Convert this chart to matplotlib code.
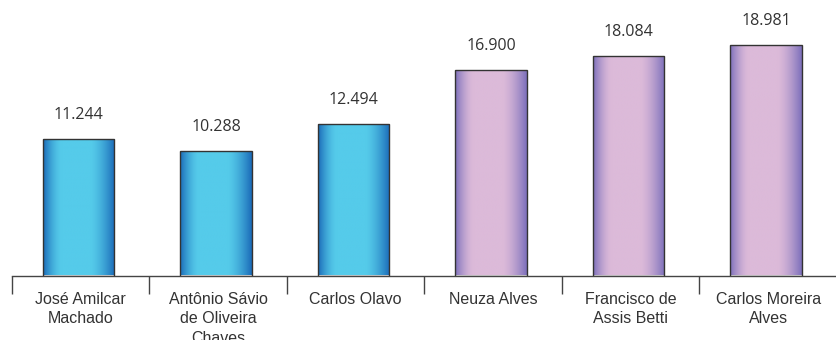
import numpy as np
import matplotlib
matplotlib.use("Agg")
import matplotlib.pyplot as plt
from matplotlib.colors import to_rgb

# Data
names = [
    "José Amilcar\nMachado",
    "Antônio Sávio\nde Oliveira\nChaves",
    "Carlos Olavo",
    "Neuza Alves",
    "Francisco de\nAssis Betti",
    "Carlos Moreira\nAlves",
]
values = [11.244, 10.288, 12.494, 16.900, 18.084, 18.981]
value_labels = ["11.244", "10.288", "12.494", "16.900", "18.084", "18.981"]
groups = ["blue", "blue", "blue", "pink", "pink", "pink"]

palette = {
    "blue": ("#1a6ab8", "#55cbea"),
    "pink": ("#7c6fbb", "#dcbad9"),
}

W, H, DPI = 837, 340, 100
fig = plt.figure(figsize=(W / DPI, H / DPI), dpi=DPI)
y0 = 275.5
ax = fig.add_axes([12 / W, (H - y0) / H, (W - 12) / W, y0 / H])
ax.set_xlim(-0.5, -0.5 + (W - 12) / 138.2)
ax.set_ylim(0, y0 / 12.14)

for s in ["top", "right", "left"]:
    ax.spines[s].set_visible(False)
ax.spines["bottom"].set_color("#444444")
ax.spines["bottom"].set_linewidth(1.0)
ax.set_yticks([])
ax.set_xticks(np.arange(-0.5, len(names) - 0.5 + 0.01, 1.0))
ax.set_xticklabels([])
ax.tick_params(axis="x", length=13, width=1.0, color="#444444", direction="out")

# Horizontal gradient profile: dark edges, light centre
t = np.linspace(0, 1, 256)
dark = np.clip(1 - t / 0.26, 0, 1) ** 1.6 + np.clip((t - 0.66) / 0.34, 0, 1) ** 1.5
dark = np.clip(dark, 0, 1)

bw = 0.52
bars = ax.bar(np.arange(len(values)) - 0.015, values, width=bw, facecolor="none",
              edgecolor="#333333", linewidth=1.0, zorder=3)
for i, (bar, g) in enumerate(zip(bars, groups)):
    edge, centre = (np.array(to_rgb(c)) for c in palette[g])
    img = centre[None, :] * (1 - dark[:, None]) + edge[None, :] * dark[:, None]
    img = img[None, :, :]
    x0 = bar.get_x()
    im = ax.imshow(img, extent=[x0, x0 + bw, 0, values[i]], aspect="auto",
                   interpolation="bilinear", zorder=2)
    im.set_clip_path(bar)

# Value labels above bars
for i, (v, lab) in enumerate(zip(values, value_labels)):
    ax.annotate(lab, (i - 0.015, v), xytext=(0, 24), textcoords="offset pixels",
                ha="center", va="center", fontsize=11.5, color="#333333",
                family="Open Sans", annotation_clip=False)

# Category labels under the axis
for i, n in enumerate(names):
    ax.annotate(n, (i, 0), xytext=(0, -16), textcoords="offset pixels",
                ha="center", va="top", fontsize=11.5, color="#333333",
                family="Liberation Sans", linespacing=1.38,
                annotation_clip=False)

fig.savefig("out.png", dpi=DPI)
